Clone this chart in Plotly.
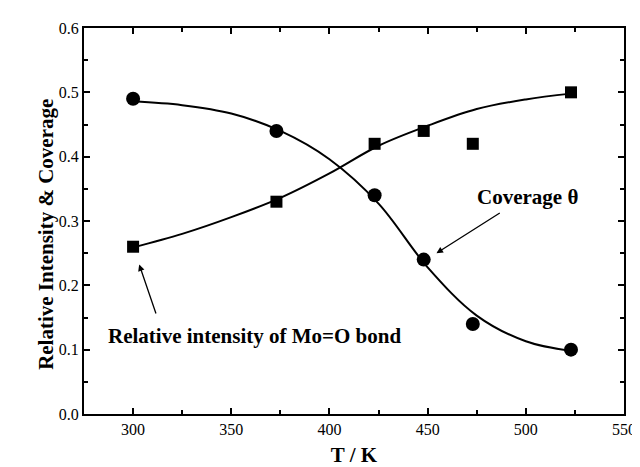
import plotly.graph_objects as go

# Measured data points
T_circle = [300, 373, 423, 448, 473, 523]
intensity = [0.49, 0.44, 0.34, 0.24, 0.14, 0.10]
T_square = [300, 373, 423, 448, 473, 523]
coverage = [0.26, 0.33, 0.42, 0.44, 0.42, 0.50]

# Fitted curves
T_fit = [300, 325, 350, 375, 400, 425, 450, 475, 500, 523]
intensity_fit = [0.486, 0.480, 0.467, 0.440, 0.396, 0.327, 0.228, 0.153, 0.113, 0.098]
coverage_fit = [0.259, 0.280, 0.306, 0.336, 0.374, 0.417, 0.448, 0.474, 0.489, 0.498]

x_ticks = [300, 350, 400, 450, 500, 550]
y_ticks = [0.0, 0.1, 0.2, 0.3, 0.4, 0.5, 0.6]

SERIF = "Liberation Serif, Times New Roman, serif"

fig = go.Figure()
fig.add_trace(go.Scatter(x=T_fit, y=intensity_fit, mode="lines",
                         line=dict(color="black", width=2, shape="spline"),
                         showlegend=False, hoverinfo="skip"))
fig.add_trace(go.Scatter(x=T_fit, y=coverage_fit, mode="lines",
                         line=dict(color="black", width=2, shape="spline"),
                         showlegend=False, hoverinfo="skip"))
fig.add_trace(go.Scatter(x=T_circle, y=intensity, mode="markers",
                         marker=dict(symbol="circle", size=14, color="black"),
                         showlegend=False))
fig.add_trace(go.Scatter(x=T_square, y=coverage, mode="markers",
                         marker=dict(symbol="square", size=12, color="black"),
                         showlegend=False))

axis_common = dict(
    showline=True, linecolor="black", linewidth=2, mirror="ticks",
    ticks="inside", ticklen=6, tickwidth=1.5, tickcolor="black",
    showgrid=False, zeroline=False,
    tickfont=dict(family=SERIF, size=16, color="black"),
)

fig.update_xaxes(range=[275, 550], tickvals=x_ticks,
                 minor=dict(ticks="inside", ticklen=4, tickwidth=1.5,
                            tickcolor="black", dtick=25, tick0=275, showgrid=False),
                 title=dict(text="<b>T / K</b>", font=dict(family=SERIF, size=21, color="black"),
                            standoff=10),
                 **axis_common)
fig.update_yaxes(range=[0, 0.6], tickvals=y_ticks, tickformat=".1f",
                 minor=dict(ticks="inside", ticklen=4, tickwidth=1.5,
                            tickcolor="black", dtick=0.05, tick0=0, showgrid=False),
                 **axis_common)

annotations = [
    dict(x=303.1, y=0.2325, ax=311.9, ay=0.154, xref="x", yref="y", axref="x", ayref="y",
         text="", showarrow=True, arrowhead=2, arrowsize=1.0, arrowwidth=1.3, arrowcolor="black"),
    dict(x=454.5, y=0.250, ax=487.5, ay=0.314, xref="x", yref="y", axref="x", ayref="y",
         text="", showarrow=True, arrowhead=2, arrowsize=1.0, arrowwidth=1.3, arrowcolor="black"),
    dict(x=361.8, y=0.122, xref="x", yref="y", showarrow=False,
         text="<b>Relative intensity of Mo=O bond</b>",
         font=dict(family=SERIF, size=21, color="black")),
    dict(x=500.9, y=0.338, xref="x", yref="y", showarrow=False,
         text="<b>Coverage θ</b>",
         font=dict(family=SERIF, size=21, color="black")),
    dict(x=23, y=228, xref="paper", yref="paper", showarrow=False,
         text="<b>Relative Intensity & Coverage</b>", textangle=-90,
         font=dict(family=SERIF, size=21, color="black")),
]
# convert the y-title position from pixels to paper coordinates
plot_l, plot_r, plot_t, plot_b = 76, 628, 17, 411
annotations[-1]["x"] = (23 - plot_l) / (plot_r - plot_l)
annotations[-1]["y"] = (plot_b - 228) / (plot_b - plot_t)

fig.update_layout(
    width=640, height=467,
    margin=dict(l=plot_l, r=640 - plot_r, t=plot_t, b=467 - plot_b),
    plot_bgcolor="white", paper_bgcolor="white",
    annotations=annotations,
)

fig.write_html("out.html")
